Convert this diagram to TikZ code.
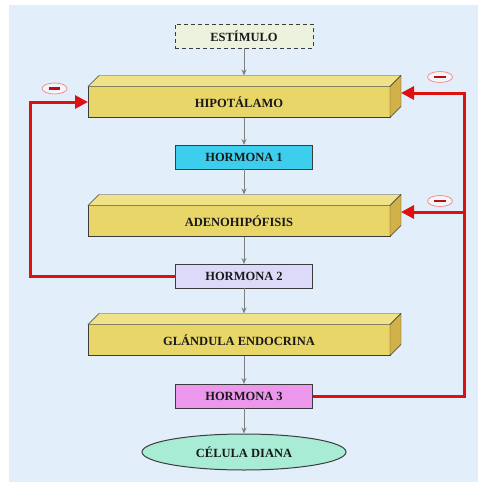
\documentclass[tikz,border=0pt]{standalone}
\usepackage{fontspec}
\setmainfont{Liberation Serif}
\usetikzlibrary{arrows.meta,shapes.geometric}

\definecolor{fondo}{RGB}{227,238,251}
\definecolor{amarillo}{RGB}{232,214,104}
\definecolor{amarillotapa}{RGB}{240,226,136}
\definecolor{amarillolado}{RGB}{210,178,72}
\definecolor{estverde}{RGB}{236,242,222}
\definecolor{cian}{RGB}{60,206,236}
\definecolor{lavanda}{RGB}{220,218,248}
\definecolor{violeta}{RGB}{236,150,236}
\definecolor{menta}{RGB}{168,236,214}
\definecolor{rojo}{RGB}{222,16,16}
\definecolor{borde}{RGB}{60,60,60}

\tikzset{
  texto/.style={font=\fontsize{12.5}{14}\selectfont\bfseries, text=black!90},
  bloque/.style={texto, draw=borde, fill=amarillo, minimum width=302pt, minimum height=31pt, inner sep=0pt, outer sep=0pt},
  hormona/.style={texto, draw=borde, minimum width=137pt, minimum height=24pt, outer sep=0pt},
  flecha/.style={draw=gray, line width=1pt, -{Stealth[length=6pt,width=5pt]}},
  retro/.style={draw=rojo, line width=3pt, -{Triangle[length=13pt,width=13pt]}},
  menos/.style={ellipse, draw=red!45, line width=0.8pt, fill=white!50!fondo, minimum width=25pt, minimum height=11pt, inner sep=0pt},
}

\begin{document}
\begin{tikzpicture}[x=1pt,y=-1pt]
  \useasboundingbox (0,0) rectangle (478,482);
  \fill[fondo] (9,5) rectangle (478,482);

  % --- estimulo ---
  \node[texto, draw=borde, dash pattern=on 4pt off 3pt, fill=estverde, minimum width=138pt, minimum height=24pt] (estimulo) at (244,36) {ESTÍMULO};

  % --- bloques en 3D ---
  \foreach \nom/\yy/\txt in {hipo/102/HIPOTÁLAMO, adeno/221/ADENOHIPÓFISIS, glan/340/GLÁNDULA ENDOCRINA} {
    \node[bloque] (\nom) at (239,\yy) {\txt};
    \filldraw[fill=amarillotapa, draw=borde] (\nom.north west) -- ++(11,-11) -- ++(302,0) -- (\nom.north east) -- cycle;
    \filldraw[fill=amarillolado, draw=borde] (\nom.north east) -- ++(11,-11) -- ++(0,31) -- (\nom.south east) -- cycle;
    \coordinate (\nom-tapa) at ([shift={(5,-11)}]\nom.north);
    \coordinate (\nom-lado) at ([shift={(11,-9)}]\nom.east);
  }

  % --- hormonas ---
  \foreach \n/\yy/\col in {1/157/cian, 2/276/lavanda, 3/396/violeta} {
    \node[hormona, fill=\col] (h\n) at (244,\yy) {HORMONA \n};
  }

  % --- celula diana ---
  \node[texto, ellipse, draw=borde, line width=1pt, fill=menta, minimum width=204pt, minimum height=36pt] (diana) at (244,452) {CÉLULA DIANA};

  % --- flechas de la cadena ---
  \draw[flecha] (estimulo.south) -- (hipo-tapa);
  \draw[flecha] (h1.north |- hipo.south) -- (h1.north);
  \draw[flecha] (h1.south) -- (adeno-tapa);
  \draw[flecha] (h2.north |- adeno.south) -- (h2.north);
  \draw[flecha] (h2.south) -- (glan-tapa);
  \draw[flecha] (h3.north |- glan.south) -- (h3.north);
  \draw[flecha] (h3.south) -- (diana.north);

  % --- retroalimentacion negativa ---
  \draw[retro] (h2.west) -- ++(-145,0) |- (hipo.west);
  \draw[retro] (h3.east) -- ++(152,0) coordinate (dcha) |- (hipo-lado);
  \draw[retro] (dcha |- adeno-lado) -- (adeno-lado);

  \node[menos] (m1) at (54.5,88.5) {\color{rojo!85!black}\rule{12pt}{2.5pt}};
  \node[menos] (m2) at (440,77) {\color{rojo!85!black}\rule{12pt}{2.5pt}};
  \node[menos] (m3) at (440,201) {\color{rojo!85!black}\rule{12pt}{2.5pt}};
\end{tikzpicture}
\end{document}
